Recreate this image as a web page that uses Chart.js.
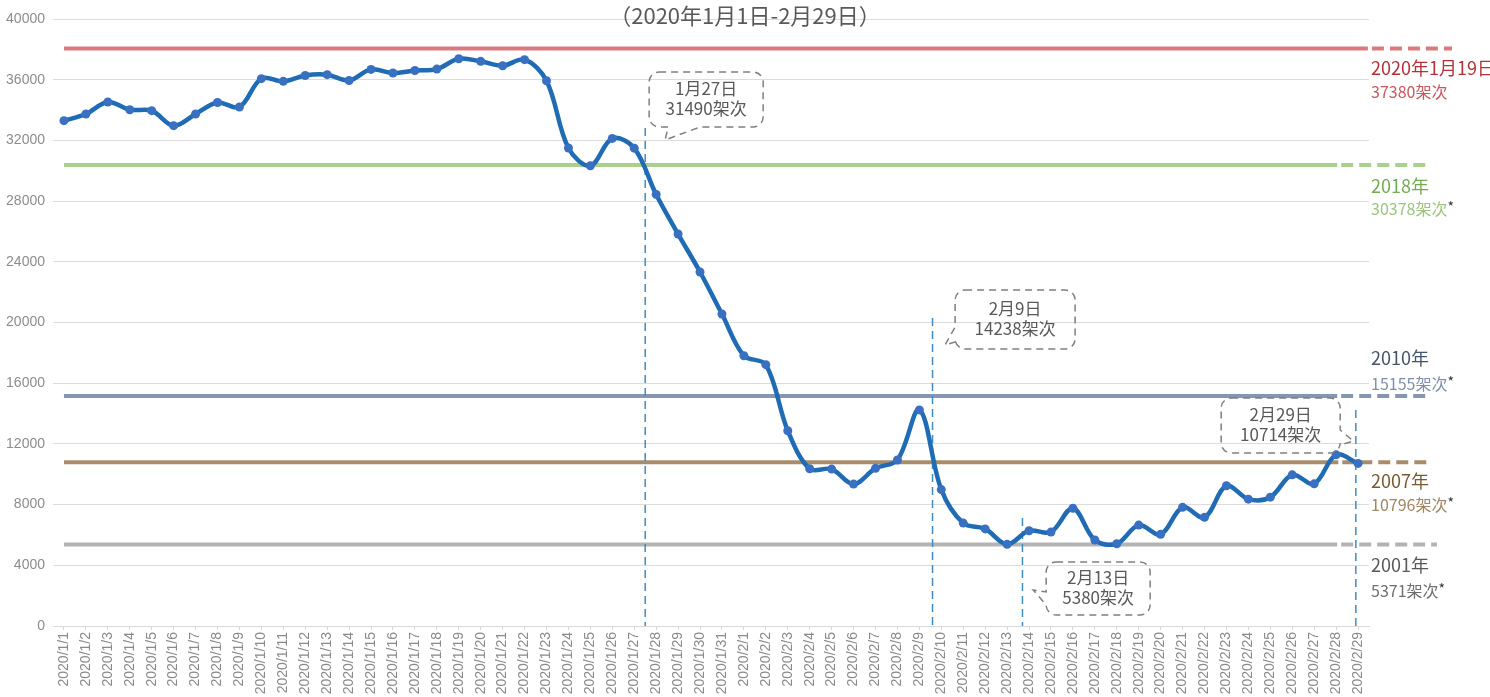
<!DOCTYPE html>
<html>
<head>
<meta charset="utf-8">
<script src="https://cdn.jsdelivr.net/npm/chart.js@4.4.1/dist/chart.umd.min.js"></script>
<style>
  html, body { margin: 0; padding: 0; background: #fff; }
  #wrap { width: 1490px; height: 697px; position: relative; }
</style>
</head>
<body>
<div id="wrap"><canvas id="flightChart"></canvas></div>
<script>
// 날짜 라벨 (2020/1/1 ~ 2020/2/29)
const dayLabels = [];
for (let d = 1; d <= 31; d++) dayLabels.push('2020/1/' + d);
for (let d = 1; d <= 29; d++) dayLabels.push('2020/2/' + d);

// 일별 항공편 수 (1월, 2월)
const janFlights = [33300, 33740, 34530, 34020, 33960, 32970, 33740, 34500, 34200, 36070,
  35890, 36280, 36330, 35950, 36680, 36440, 36610, 36700, 37380, 37210,
  36920, 37320, 35930, 31500, 30330, 32130, 31490, 28440, 25830, 23330, 20560];
const febFlights = [17810, 17220, 12870, 10360, 10340, 9350, 10390, 10940, 14238, 8990,
  6780, 6400, 5380, 6280, 6190, 7760, 5670, 5420, 6650, 6040,
  7820, 7160, 9240, 8360, 8490, 9960, 9370, 11280, 10714];
const flights = janFlights.concat(febFlights);

// y축 눈금
const yTicks = [0, 4000, 8000, 12000, 16000, 20000, 24000, 28000, 32000, 36000, 40000];

// 기준선 (연도별 기록)
const refNames = ['2020年1月19日', '2018年', '2010年', '2007年', '2001年'];
const refCounts = ['37380架次', '30378架次', '15155架次', '10796架次', '5371架次'];
const refStars = [false, true, true, true, true];
const refLevels = [38050, 30378, 15155, 10796, 5371];

// 말풍선 주석
const noteDates = ['1月27日', '2月9日', '2月13日', '2月29日'];
const noteCounts = ['31490架次', '14238架次', '5380架次', '10714架次'];
const markerIdx = [26.5, 39.6, 43.7, 58.9];
const markerTop = [32820, 20300, 7120, 14230];

const titleText = '（2020年1月1日-2月29日）';

// 스타일 설정
const refStyle = {
  line: ['#d97a7e', '#a9d08e', '#8496b0', '#a88d6d', '#b3b3b3'],
  name: ['#b3323a', '#74ab52', '#44546a', '#7a5a30', '#595959'],
  count: ['#c9585e', '#9cc47f', '#7f8faa', '#a08662', '#6f6f6f'],
  solidTo: [59.45, 58.05, 58.05, 58.1, 58.05],
  dashEnd: [83, 61, 61, 61, 68],
  nameOff: [19.5, 21, -37.5, 18.5, 21],
  countOff: [43.5, 44, -12.5, 42.5, 46]
};

const noteStyle = {
  at: [[26.68, 36510], [40.63, 22140], [44.78, 4218], [52.76, 15025]],
  tip: [[27.41, 32030], [40.17, 18520], [44.19, 2372], [58.78, 12190]],
  size: [[114, 55], [120, 59], [104, 53], [119, 55]],
  wedge: [['bottom', 19, 51], ['left', 37, 52], ['left', 30, 43], ['right', 32, 47]]
};

const cjk = '"Noto Sans CJK SC", "Noto Sans", sans-serif';

// 말풍선 경로
function bubblePath(ctx, x, y, w, h, r, wedge, tx, ty) {
  const side = wedge[0], b1 = wedge[1], b2 = wedge[2];
  ctx.beginPath();
  ctx.moveTo(x + r, y);
  ctx.lineTo(x + w - r, y);
  ctx.arcTo(x + w, y, x + w, y + r, r);
  if (side === 'right') {
    ctx.lineTo(x + w, y + b1);
    ctx.lineTo(tx, ty);
    ctx.lineTo(x + w, y + b2);
  }
  ctx.lineTo(x + w, y + h - r);
  ctx.arcTo(x + w, y + h, x + w - r, y + h, r);
  if (side === 'bottom') {
    ctx.lineTo(x + b2, y + h);
    ctx.lineTo(tx, ty);
    ctx.lineTo(x + b1, y + h);
  }
  ctx.lineTo(x + r, y + h);
  ctx.arcTo(x, y + h, x, y + h - r, r);
  if (side === 'left') {
    ctx.lineTo(x, y + b2);
    ctx.lineTo(tx, ty);
    ctx.lineTo(x, y + b1);
  }
  ctx.lineTo(x, y + r);
  ctx.arcTo(x, y, x + r, y, r);
  ctx.closePath();
}

// 기준선 + 세로 점선
const refPlugin = {
  id: 'refLines',
  beforeDatasetsDraw(chart) {
    const { ctx, chartArea, scales: { x, y } } = chart;
    ctx.save();
    ctx.lineWidth = 4;
    refLevels.forEach((v, i) => {
      const py = y.getPixelForValue(v);
      const x0 = x.getPixelForValue(0);
      const x1 = x.getPixelForValue(refStyle.solidTo[i]);
      ctx.strokeStyle = refStyle.line[i];
      ctx.setLineDash([]);
      ctx.beginPath();
      ctx.moveTo(x0, py);
      ctx.lineTo(x1, py);
      ctx.stroke();
      ctx.setLineDash([12, 6]);
      ctx.beginPath();
      ctx.moveTo(x1 + 4, py);
      ctx.lineTo(chartArea.right + refStyle.dashEnd[i], py);
      ctx.stroke();
    });

    ctx.strokeStyle = '#3f8cc2';
    ctx.lineWidth = 1.5;
    ctx.setLineDash([8, 5]);
    markerIdx.forEach((m, i) => {
      const px = x.getPixelForValue(m);
      ctx.beginPath();
      ctx.moveTo(px, y.getPixelForValue(markerTop[i]));
      ctx.lineTo(px, chartArea.bottom);
      ctx.stroke();
    });
    ctx.restore();
  },
  afterDraw(chart) {
    const { ctx, chartArea, scales: { x, y } } = chart;
    ctx.save();

    // 제목
    ctx.fillStyle = '#595959';
    ctx.font = '22px ' + cjk;
    ctx.textAlign = 'center';
    ctx.textBaseline = 'middle';
    ctx.fillText(titleText, chart.width / 2, 16);

    // 오른쪽 라벨
    ctx.textAlign = 'left';
    const lx = chartArea.right + 2;
    refLevels.forEach((v, i) => {
      const py = y.getPixelForValue(v);
      ctx.font = '18px ' + cjk;
      ctx.fillStyle = refStyle.name[i];
      ctx.fillText(refNames[i], lx, py + refStyle.nameOff[i]);
      ctx.font = '16px ' + cjk;
      ctx.fillStyle = refStyle.count[i];
      ctx.fillText(refCounts[i], lx, py + refStyle.countOff[i]);
      if (refStars[i]) {
        const w = ctx.measureText(refCounts[i]).width;
        ctx.fillStyle = '#333';
        ctx.font = '14px ' + cjk;
        ctx.fillText('*', lx + w, py + refStyle.countOff[i] - 2);
      }
    });

    // 말풍선
    noteDates.forEach((d, i) => {
      const bx = x.getPixelForValue(noteStyle.at[i][0]);
      const by = y.getPixelForValue(noteStyle.at[i][1]);
      const tx = x.getPixelForValue(noteStyle.tip[i][0]);
      const ty = y.getPixelForValue(noteStyle.tip[i][1]);
      const w = noteStyle.size[i][0], h = noteStyle.size[i][1];
      ctx.strokeStyle = '#7f7f7f';
      ctx.lineWidth = 1.5;
      ctx.setLineDash([7, 5]);
      bubblePath(ctx, bx, by, w, h, 10, noteStyle.wedge[i], tx, ty);
      ctx.stroke();
      ctx.setLineDash([]);
      ctx.fillStyle = '#595959';
      ctx.font = '17px ' + cjk;
      ctx.textAlign = 'center';
      const mid = by + h / 2 - 1;
      ctx.fillText(d, bx + w / 2, mid - 10);
      ctx.fillText(noteCounts[i], bx + w / 2, mid + 10);
    });
    ctx.restore();
  }
};

const chart = new Chart(document.getElementById('flightChart'), {
  type: 'line',
  data: {
    labels: dayLabels,
    datasets: [{
      label: '架次',
      data: flights,
      borderColor: '#1f6cb5',
      borderWidth: 4.5,
      tension: 0.35,
      pointRadius: 4.5,
      pointBackgroundColor: '#3a70c2',
      pointBorderWidth: 0,
      fill: false
    }]
  },
  options: {
    responsive: true,
    maintainAspectRatio: false,
    animation: false,
    layout: { padding: { left: 0, right: 121, top: 19, bottom: 0 } },
    plugins: {
      legend: { display: false },
      tooltip: { enabled: false }
    },
    scales: {
      x: {
        offset: true,
        grid: {
          drawOnChartArea: false,
          drawTicks: true,
          tickLength: 4,
          color: '#d9d9d9'
        },
        border: { color: '#d9d9d9' },
        ticks: {
          autoSkip: false,
          minRotation: 90,
          maxRotation: 90,
          padding: 2,
          color: '#8a8a8a',
          font: { family: '"Liberation Sans", Arial, sans-serif', size: 14 }
        },
        afterFit(scale) { scale.height = 71; }
      },
      y: {
        min: 0,
        max: 40000,
        afterBuildTicks(scale) { scale.ticks = yTicks.map(v => ({ value: v })); },
        grid: { color: '#dcdcdc', drawTicks: false },
        border: { display: false },
        ticks: {
          padding: 8,
          color: '#8c8c8c',
          font: { family: '"Liberation Sans", Arial, sans-serif', size: 14 },
          callback: function(value) { return String(value); }
        },
        afterFit(scale) { scale.width = 53; }
      }
    }
  },
  plugins: [refPlugin]
});
</script>
</body>
</html>
